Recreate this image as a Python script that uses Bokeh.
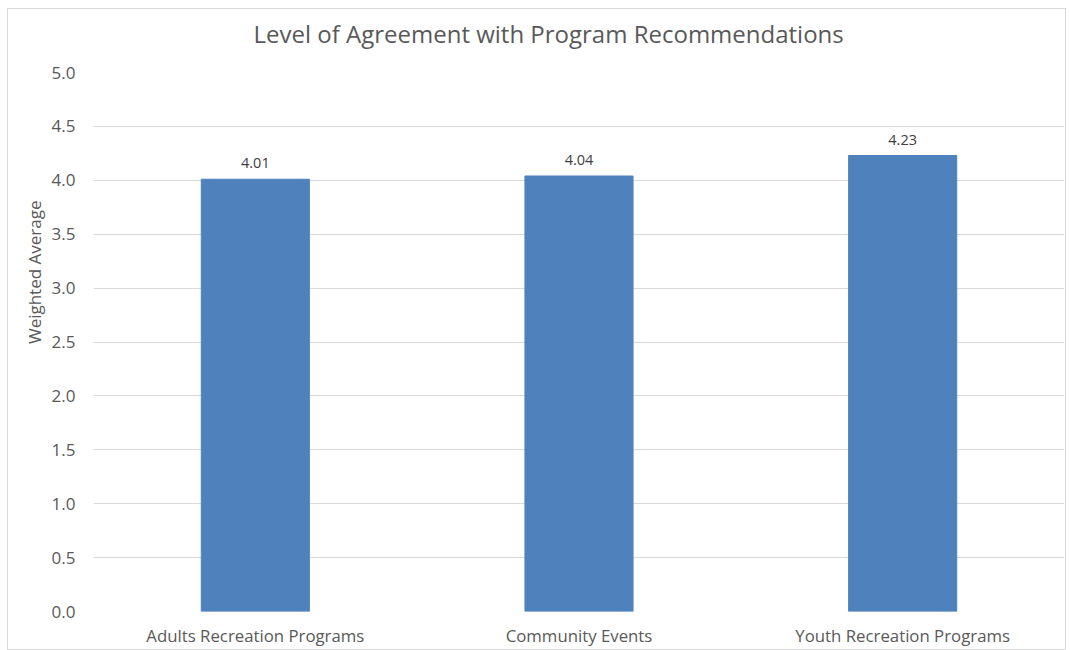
from bokeh.plotting import figure
from bokeh.models import Range1d, ColumnDataSource, LabelSet, Title, SingleIntervalTicker, CustomJSTickFormatter
from bokeh.core.properties import value
from bokeh.embed import file_html
from bokeh.resources import INLINE

categories = ["Adults Recreation Programs", "Community Events", "Youth Recreation Programs"]
values = [4.01, 4.04, 4.23]
value_labels = ["4.01", "4.04", "4.23"]
title_text = "Level of Agreement with Program Recommendations"
y_title = "Weighted Average"

FONT = "Open Sans"
TXT = "#595959"
GRID = "#D9D9D9"

src = ColumnDataSource(dict(x=categories, top=values, lab=value_labels))

p = figure(x_range=categories, y_range=Range1d(0, 5), width=1059, height=642,
           output_backend="svg", toolbar_location=None,
           min_border_left=85, min_border_right=3, min_border_top=63, min_border_bottom=40)
p.outline_line_color = None
p.styles = {"border": "1px solid #D9D9D9", "box-sizing": "border-box",
            "margin-left": "7px", "margin-top": "8px"}

p.title.text = title_text
p.title.align = "left"
p.title.offset = 160
p.title.vertical_align = "bottom"
p.title.standoff = 0
p.title.text_font = FONT
p.title.text_font_size = "24px"
p.title.text_font_style = "normal"
p.title.text_color = TXT

# blank spacer between the title and the plot area
p.add_layout(Title(text=" ", standoff=10, text_font_size="10px"), "above")

p.add_layout(Title(text=y_title, align="right", offset=128, standoff=6,
                   text_font=FONT, text_font_size="17px", text_font_style="normal",
                   text_color=TXT), "left")

p.vbar(x="x", top="top", width=0.334, color="#4F81BD", source=src)

p.yaxis.ticker = SingleIntervalTicker(interval=0.5)
p.yaxis.formatter = CustomJSTickFormatter(code="return tick.toFixed(1);")
for ax in (p.xaxis[0], p.yaxis[0]):
    ax.axis_line_color = None
    ax.major_tick_line_color = None
    ax.minor_tick_line_color = None
    ax.major_label_text_font = FONT
    ax.major_label_text_color = TXT
    ax.major_label_text_font_size = "17px"
p.xaxis.major_label_text_font_size = "16.8px"
p.yaxis.major_label_standoff = 12
p.xaxis.major_label_standoff = 6
p.xgrid.grid_line_color = None
p.ygrid.grid_line_color = GRID
p.ygrid.grid_line_width = 1

labels = LabelSet(x="x", y="top", text="lab", source=src, text_align="center",
                  text_baseline="bottom", y_offset=11, text_font_size=value("14.5px"),
                  text_color=value("#404040"), text_font=value(FONT))
p.add_layout(labels)

open("out.html", "w").write(file_html(p, INLINE))
